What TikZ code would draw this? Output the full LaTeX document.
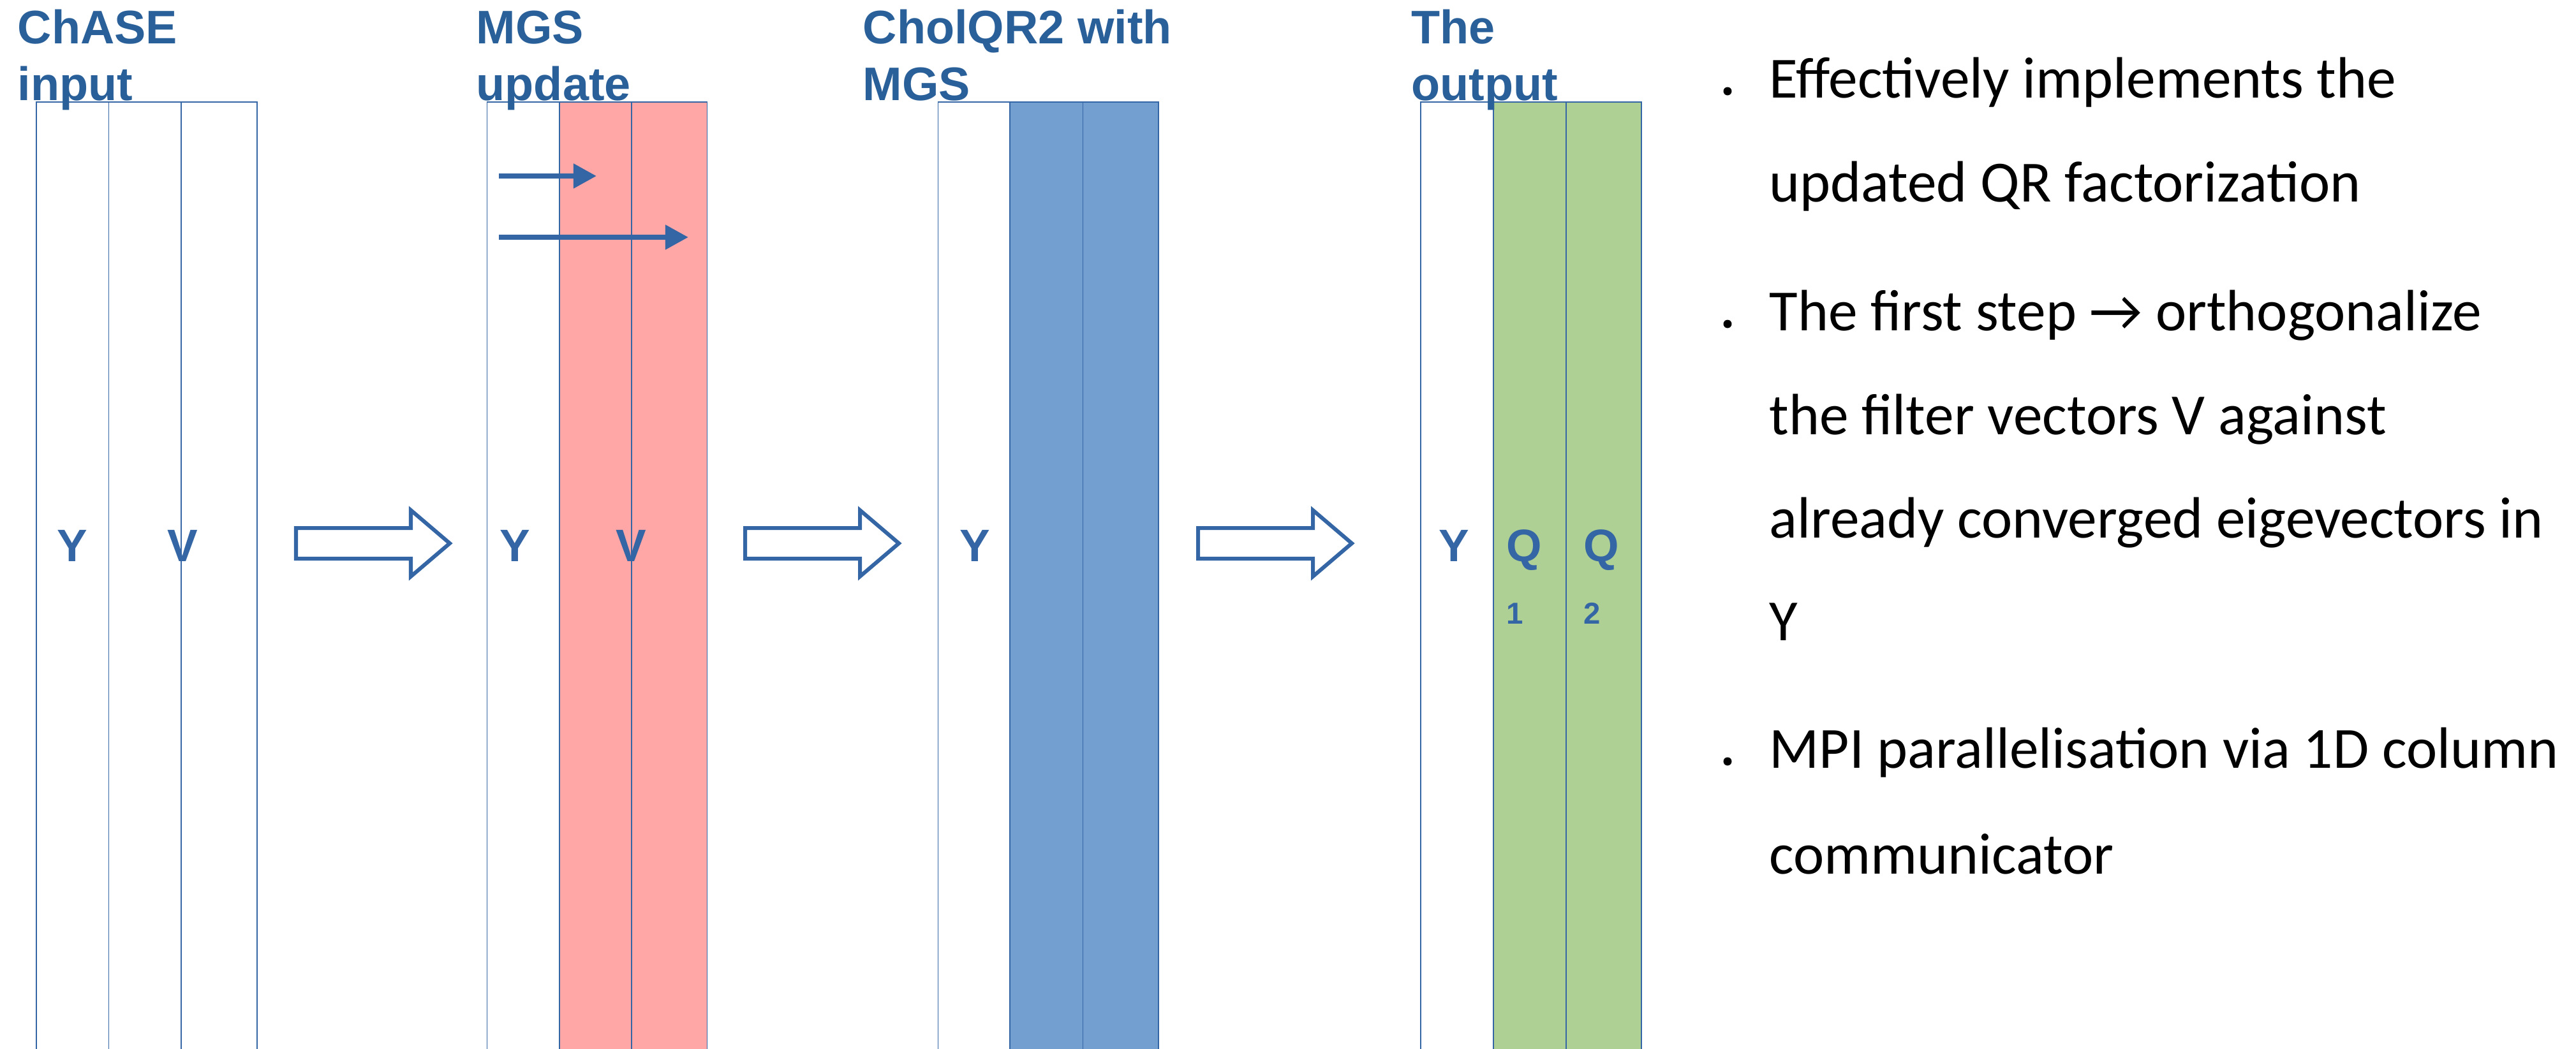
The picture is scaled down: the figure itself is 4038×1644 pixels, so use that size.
\documentclass[tikz,border=0pt]{standalone}
\usepackage{fontspec}
\setmainfont{Carlito}
\newfontfamily\headfont{Liberation Sans}
\usetikzlibrary{arrows.meta}

\definecolor{linec}{HTML}{3465A4}
\definecolor{headc}{HTML}{2A6099}
\definecolor{pinkf}{HTML}{FFA6A6}
\definecolor{bluef}{HTML}{729FCF}
\definecolor{greenf}{HTML}{AFD095}

\tikzset{
  colline/.style={draw=linec, line width=0.45pt},
  title/.style={anchor=base west, inner sep=0pt, text=headc,
    font=\headfont\bfseries\fontsize{21}{25}\selectfont},
  lbl/.style={anchor=base, inner sep=0pt, text=linec,
    font=\headfont\bfseries\fontsize{20.3}{24}\selectfont},
  sublbl/.style={anchor=base, inner sep=0pt, text=linec,
    font=\headfont\bfseries\fontsize{13.5}{16}\selectfont},
  bodytext/.style={anchor=base west, inner sep=0pt, text=black,
    font=\fontsize{26}{31}\selectfont},
  blockarrow/.style={draw=linec, line width=1.71pt, fill=white, line join=miter},
  thinarrow/.style={draw=linec, line width=2.3pt,
    -{Triangle[length=0.36cm, width=0.37cm]}},
}

\begin{document}
\begin{tikzpicture}[x=0.01cm, y=-0.01cm]
\clip (0,0) rectangle (4038,1644);
\fill[white] (0,0) rectangle (4038,1644);

% ---- column groups ----
% ChASE input
\draw[colline] (57,160) rectangle (170.6,1700);
\draw[colline] (170.6,160) rectangle (283.8,1700);
\draw[colline] (283.8,160) rectangle (403,1700);
% MGS update
\draw[colline] (763.5,160) rectangle (876.7,1700);
\draw[colline, fill=pinkf] (876.7,160) rectangle (990,1700);
\draw[colline, fill=pinkf] (990,160) rectangle (1108.5,1700);
% CholQR2 with MGS
\draw[colline] (1470.6,160) rectangle (1583,1700);
\draw[colline, fill=bluef] (1583,160) rectangle (1697.4,1700);
\draw[colline, fill=bluef] (1697.4,160) rectangle (1816,1700);
% output
\draw[colline] (2227,160) rectangle (2341,1700);
\draw[colline, fill=greenf] (2341,160) rectangle (2454.7,1700);
\draw[colline, fill=greenf] (2454.7,160) rectangle (2573,1700);

% ---- titles ----
\node[title] (t1a) at (27,68) {ChASE};
\node[title] (t1b) at (27,157) {input};
\node[title] (t2a) at (746,68) {MGS};
\node[title] (t2b) at (746,157) {update};
\node[title] (t3a) at (1352,68) {CholQR2 with};
\node[title] (t3b) at (1352,157) {MGS};
\node[title] (t4a) at (2212,68) {The};
\node[title] (t4b) at (2212,157) {output};

% ---- column labels ----
\node[lbl] (y1) at (113,880) {Y};
\node[lbl] (v1) at (286,880) {V};
\node[lbl] (y2) at (807,880) {Y};
\node[lbl] (v2) at (989,880) {V};
\node[lbl] (y3) at (1528,880) {Y};
\node[lbl] (y4) at (2279,880) {Y};
\node[lbl] (q1) at (2389,880) {Q};
\node[lbl] (q2) at (2510,880) {Q};
\node[sublbl] (s1) at (2375,978) {1};
\node[sublbl] (s2) at (2496,978) {2};

% ---- projection arrows inside the update step ----
\coordinate (pa) at (782,276);
\coordinate (pb) at (935,276);
\coordinate (pc) at (782,372);
\coordinate (pd) at (1079,372);
\draw[thinarrow] (pa) -- (pb);
\draw[thinarrow] (pc) -- (pd);

% ---- block arrows between steps ----
\foreach \x in {464, 1168, 1878}{
  \draw[blockarrow] (\x,828) -- ++(180,0) -- ++(0,-28) -- ++(61,52)
    -- ++(-61,52) -- ++(0,-28) -- ++(-180,0) -- cycle;
}

% ---- bullet list ----
\foreach \yb in {153,518,1204}{
  \fill (2708,\yb-10) circle[radius=0.065cm];
}
\node[bodytext] (l1) at (2773,153) {Effectively implements the};
\node[bodytext] (l2) at (2773,316) {updated QR factorization};
\node[bodytext] (l3) at (2773,518) {The first step → orthogonalize};
\node[bodytext] (l4) at (2773,681) {the filter vectors V against};
\node[bodytext] (l5) at (2773,843) {already converged eigevectors in};
\node[bodytext] (l6) at (2773,1004) {Y};
\node[bodytext] (l7) at (2773,1204) {MPI parallelisation via 1D column};
\node[bodytext] (l8) at (2773,1370) {communicator};
\end{tikzpicture}
\end{document}
